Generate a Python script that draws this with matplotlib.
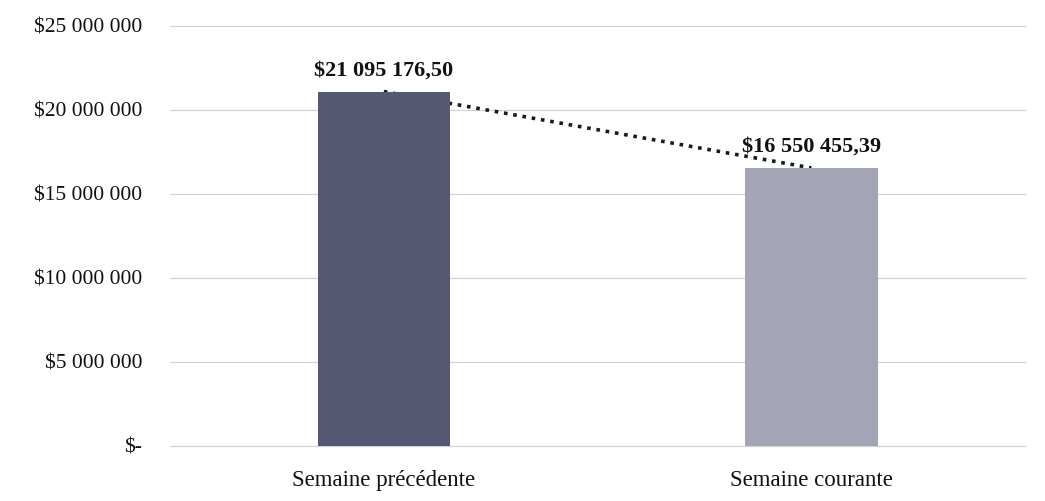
import matplotlib
matplotlib.use("Agg")
import matplotlib.pyplot as plt

categories = ["Semaine précédente", "Semaine courante"]
values = [21095176.50, 16550455.39]
value_labels = ["$21 095 176,50", "$16 550 455,39"]
yticks = [0, 5000000, 10000000, 15000000, 20000000, 25000000]
ytick_labels = ["$-", "$5 000 000", "$10 000 000", "$15 000 000", "$20 000 000", "$25 000 000"]
bar_colors = ["#545872", "#a3a5b6"]

plt.rcParams['font.family'] = ['Liberation Serif', 'DejaVu Serif']

fig = plt.figure(figsize=(10.45, 5.01), dpi=100)
ax = fig.add_axes([0.1627, 0.1098, 0.8183, 0.8384])

x = list(range(len(categories)))
ax.plot(x, values, linestyle=(0, (1, 1.6)), color="#1a1a1a", linewidth=2.6, zorder=1)
ax.bar(x, values, width=0.31, color=bar_colors, zorder=2)

for xi, v, lab in zip(x, values, value_labels):
    ax.annotate(lab, (xi, v), xytext=(0, 8), textcoords="offset points",
                ha="center", va="bottom", fontsize=16, fontweight="bold", color="#111111")

ax.set_xlim(-0.5, 1.5)
ax.set_ylim(0, 25000000)
ax.set_yticks(yticks)
ax.set_yticklabels(ytick_labels, fontsize=15.5, color="#111111")
ax.set_xticks(x)
ax.set_xticklabels(categories, fontsize=16.5, color="#111111")
ax.tick_params(axis="y", length=0, pad=20)
ax.tick_params(axis="x", length=0, pad=17)
ax.yaxis.grid(True, color="#d2d2d2", linewidth=0.9)
for gl in ax.get_ygridlines():
    gl.set_clip_on(False)
ax.set_axisbelow(True)
for s in ax.spines.values():
    s.set_visible(False)

fig.savefig("out.png", dpi=100)
